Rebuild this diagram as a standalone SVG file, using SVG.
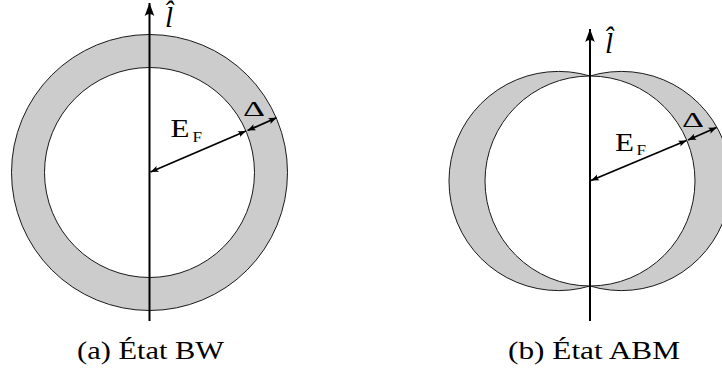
<svg xmlns="http://www.w3.org/2000/svg" width="722" height="370" viewBox="0 0 722 370">
<style>
.ring{fill:#cccccc;stroke:#1a1a1a;stroke-width:1}
.inner{fill:#ffffff;stroke:#1a1a1a;stroke-width:1}
.axis{stroke:#000;stroke-width:2;fill:none}
.arr{stroke:#000;stroke-width:1.8;fill:none}
.t{font-family:"Liberation Serif","DejaVu Serif",serif;fill:#000}
.it{font-family:"Liberation Serif","DejaVu Serif",serif;font-style:italic;fill:#000}
</style>
<defs>
<marker id="big" markerUnits="userSpaceOnUse" viewBox="-14 -6 16 12" refX="0" refY="0" markerWidth="16" markerHeight="12" orient="auto">
<path d="M0,0 L-13,-4.8 Q-9,0 -13,4.8 Z" fill="#000"/>
</marker>
<marker id="sm" markerUnits="userSpaceOnUse" viewBox="-10 -5 12 10" refX="0" refY="0" markerWidth="12" markerHeight="10" orient="auto-start-reverse">
<path d="M0,0 L-8,-3.2 Q-5.5,0 -8,3.2 Z" fill="#000"/>
</marker>
</defs>

<g id="fig-a">
<g id="a-shapes">
<circle class="ring" cx="149.5" cy="172.5" r="138"/>
<circle class="inner" cx="149.5" cy="172.5" r="105"/>
</g>
<g id="a-connectors">
<line class="axis" x1="149.5" y1="321" x2="149.5" y2="3" marker-end="url(#big)"/>
<line class="arr" x1="150.5" y1="172" x2="246" y2="131" marker-start="url(#sm)" marker-end="url(#sm)"/>
<line class="arr" x1="247.5" y1="130.5" x2="276.5" y2="117.8" marker-start="url(#sm)" marker-end="url(#sm)"/>
</g>
<g id="a-labels">
<text class="it" x="165" y="26.5" font-size="29">l̂</text>
<text class="t" x="170.5" y="137.3" font-size="25" textLength="19" lengthAdjust="spacingAndGlyphs">E</text>
<text class="t" x="192.5" y="141.7" font-size="15" textLength="9.5" lengthAdjust="spacingAndGlyphs">F</text>
<text class="t" x="243" y="115.5" font-size="22" textLength="22" lengthAdjust="spacingAndGlyphs">Δ</text>
<text class="t" x="77" y="358.5" font-size="25" textLength="147" lengthAdjust="spacingAndGlyphs">(a) État BW</text>
</g>
</g>

<g id="fig-b">
<g id="b-shapes">
<circle class="ring" cx="558.6" cy="181" r="109.6"/>
<circle class="ring" cx="621.4" cy="181" r="109.6"/>
<circle class="inner" cx="590" cy="181" r="105"/>
</g>
<g id="b-connectors">
<line class="axis" x1="590" y1="321" x2="590" y2="29" marker-end="url(#big)"/>
<line class="arr" x1="591" y1="180.5" x2="686.5" y2="140.5" marker-start="url(#sm)" marker-end="url(#sm)"/>
<line class="arr" x1="688" y1="140" x2="716.5" y2="127.5" marker-start="url(#sm)" marker-end="url(#sm)"/>
</g>
<g id="b-labels">
<text class="it" x="605" y="53" font-size="29">l̂</text>
<text class="t" x="615" y="150.5" font-size="25" textLength="19" lengthAdjust="spacingAndGlyphs">E</text>
<text class="t" x="636.5" y="155" font-size="15" textLength="9.5" lengthAdjust="spacingAndGlyphs">F</text>
<text class="t" x="682" y="127" font-size="22" textLength="22" lengthAdjust="spacingAndGlyphs">Δ</text>
<text class="t" x="508" y="358.5" font-size="25" textLength="172" lengthAdjust="spacingAndGlyphs">(b) État ABM</text>
</g>
</g>
</svg>
